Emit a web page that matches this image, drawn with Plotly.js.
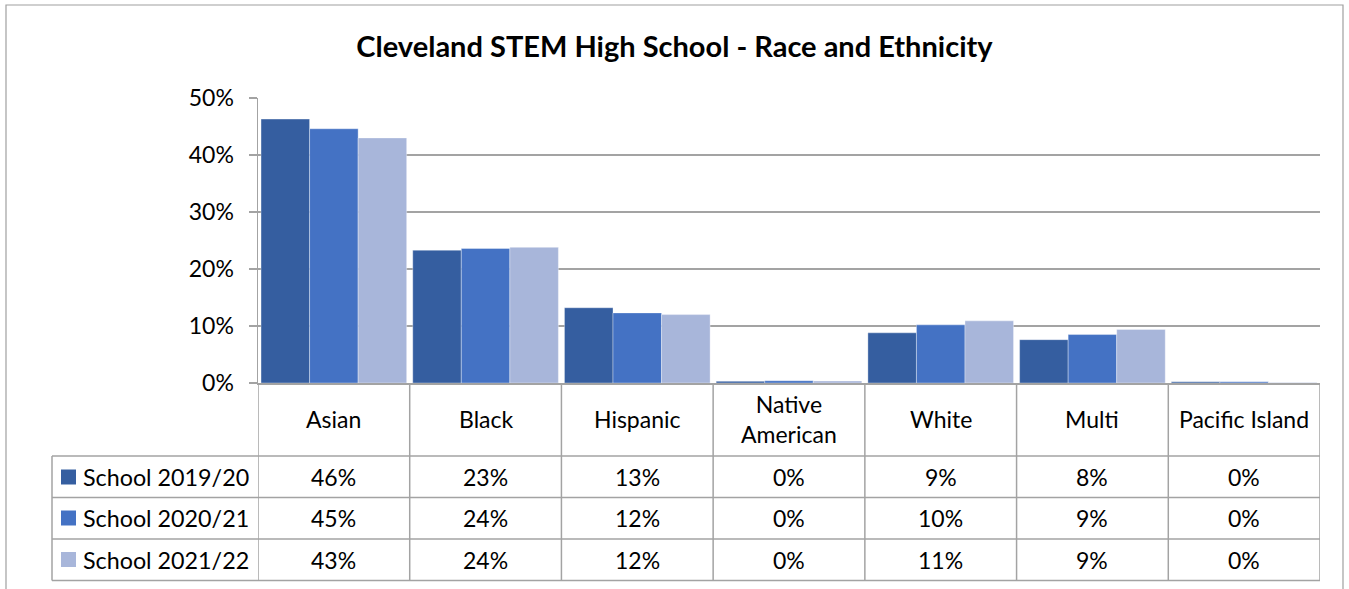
<!DOCTYPE html>
<html>
<head>
<meta charset="utf-8">
<script src="https://cdn.plot.ly/plotly-3.0.1.min.js"></script>
<style>html,body{margin:0;padding:0;background:#fff;}#chart{width:1349px;height:589px;}</style>
</head>
<body>
<div id="chart"></div>
<script>
// ---- data ----
const categories = ["Asian", "Black", "Hispanic", "Native American", "White", "Multi", "Pacific Island"];
const categoryLabels = ["Asian", "Black", "Hispanic", "Native<br>American", "White", "Multi", "Pacific Island"];
const seriesNames = ["School 2019/20", "School 2020/21", "School 2021/22"];
const school2019 = [46.3, 23.3, 13.2, 0.3, 8.8, 7.6, 0.2];
const school2020 = [44.6, 23.6, 12.3, 0.4, 10.2, 8.5, 0.2];
const school2021 = [43.0, 23.8, 12.0, 0.35, 10.9, 9.4, 0.1];
const yTicks = [0, 10, 20, 30, 40, 50];
const colors = ["#355EA0", "#4472C4", "#A8B6DA"];

const seriesValues = [school2019, school2020, school2021];

// ---- geometry helpers (figure pixels -> paper coords) ----
const W = 1349, H = 589;
const M = {l: 258, r: 29, t: 98, b: 206};
const PW = W - M.l - M.r, PH = H - M.t - M.b;
const xp = p => (p - M.l) / PW;
const yp = p => (H - M.b - p) / PH;
const FONT = "Lato, 'Open Sans', sans-serif";
const GRID = "#A3A3A3";

const traces = seriesValues.map((vals, k) => ({
  type: "bar",
  name: seriesNames[k],
  x: categories,
  y: vals,
  marker: {color: colors[k], line: {color: "rgba(255,255,255,0.35)", width: 1}},
  hoverinfo: "x+y+name"
}));

const shapes = [];
const annotations = [];
const lineStyle = {color: GRID, width: 1.5};

// outer frame
shapes.push({type: "rect", xref: "paper", yref: "paper", x0: xp(6), x1: xp(1343), y0: yp(5), y1: yp(640),
  line: {color: "#A0A0A0", width: 1.2}, fillcolor: "rgba(0,0,0,0)", layer: "below"});

// table rows (pixel y of horizontal lines)
const rowLines = [456, 497.5, 539, 580.5];
const rowCenters = [477, 518, 559.5];
const tableLeft = 52;
rowLines.forEach(py => {
  shapes.push({type: "line", xref: "paper", yref: "paper", x0: xp(tableLeft), x1: 1, y0: yp(py), y1: yp(py), line: lineStyle});
});
for (let i = 0; i <= categories.length; i++) {
  shapes.push({type: "line", xref: "x", yref: "paper", x0: i - 0.5, x1: i - 0.5, y0: 0, y1: yp(rowLines[3]), line: lineStyle});
}
shapes.push({type: "line", xref: "paper", yref: "paper", x0: xp(tableLeft), x1: xp(tableLeft), y0: yp(rowLines[0]), y1: yp(rowLines[3]), line: lineStyle});

// category header labels
categories.forEach((c, i) => {
  annotations.push({xref: "x", yref: "paper", x: i, y: yp(419), text: categoryLabels[i], showarrow: false,
    xanchor: "center", yanchor: "middle", font: {family: FONT, size: 23, color: "#000"}});
});

// legend keys + values
seriesValues.forEach((vals, k) => {
  const cy = rowCenters[k];
  shapes.push({type: "rect", xref: "paper", yref: "paper", x0: xp(61), x1: xp(76), y0: yp(cy - 7.5), y1: yp(cy + 7.5),
    fillcolor: colors[k], line: {width: 0}});
  annotations.push({xref: "paper", yref: "paper", x: xp(81), y: yp(cy), text: seriesNames[k], showarrow: false,
    xanchor: "left", yanchor: "middle", font: {family: FONT, size: 23.3, color: "#000"}});
  vals.forEach((v, i) => {
    annotations.push({xref: "x", yref: "paper", x: i, y: yp(cy), text: Math.round(v) + "%", showarrow: false,
      xanchor: "center", yanchor: "middle", font: {family: FONT, size: 23, color: "#000"}});
  });
});

const layout = {
  width: W, height: H,
  margin: M,
  paper_bgcolor: "#fff", plot_bgcolor: "#fff",
  showlegend: false,
  barmode: "group",
  bargap: 0.04,
  bargroupgap: 0,
  title: {text: "<b>Cleveland STEM High School - Race and Ethnicity</b>", x: 0.5, xanchor: "center",
    y: 1 - 47 / H, yanchor: "middle", yref: "container",
    font: {family: FONT, size: 29, color: "#000"}},
  xaxis: {showticklabels: false, showgrid: false, zeroline: false, showline: true, linecolor: GRID, linewidth: 1.5,
    ticks: "", range: [-0.5, categories.length - 0.5], fixedrange: true},
  yaxis: {range: [0, 50], tickvals: yTicks, ticktext: yTicks.map(v => v + "%"), showgrid: true, gridcolor: GRID, gridwidth: 1.5,
    zeroline: false, showline: true, linecolor: GRID, linewidth: 1.5, ticks: "outside", ticklen: 8, tickcolor: GRID, tickwidth: 1.5,
    ticklabelstandoff: 10,
    tickfont: {family: FONT, size: 23, color: "#000"}, fixedrange: true},
  shapes: shapes,
  annotations: annotations
};

Plotly.newPlot("chart", traces, layout, {displayModeBar: false, staticPlot: true});
</script>
</body>
</html>
